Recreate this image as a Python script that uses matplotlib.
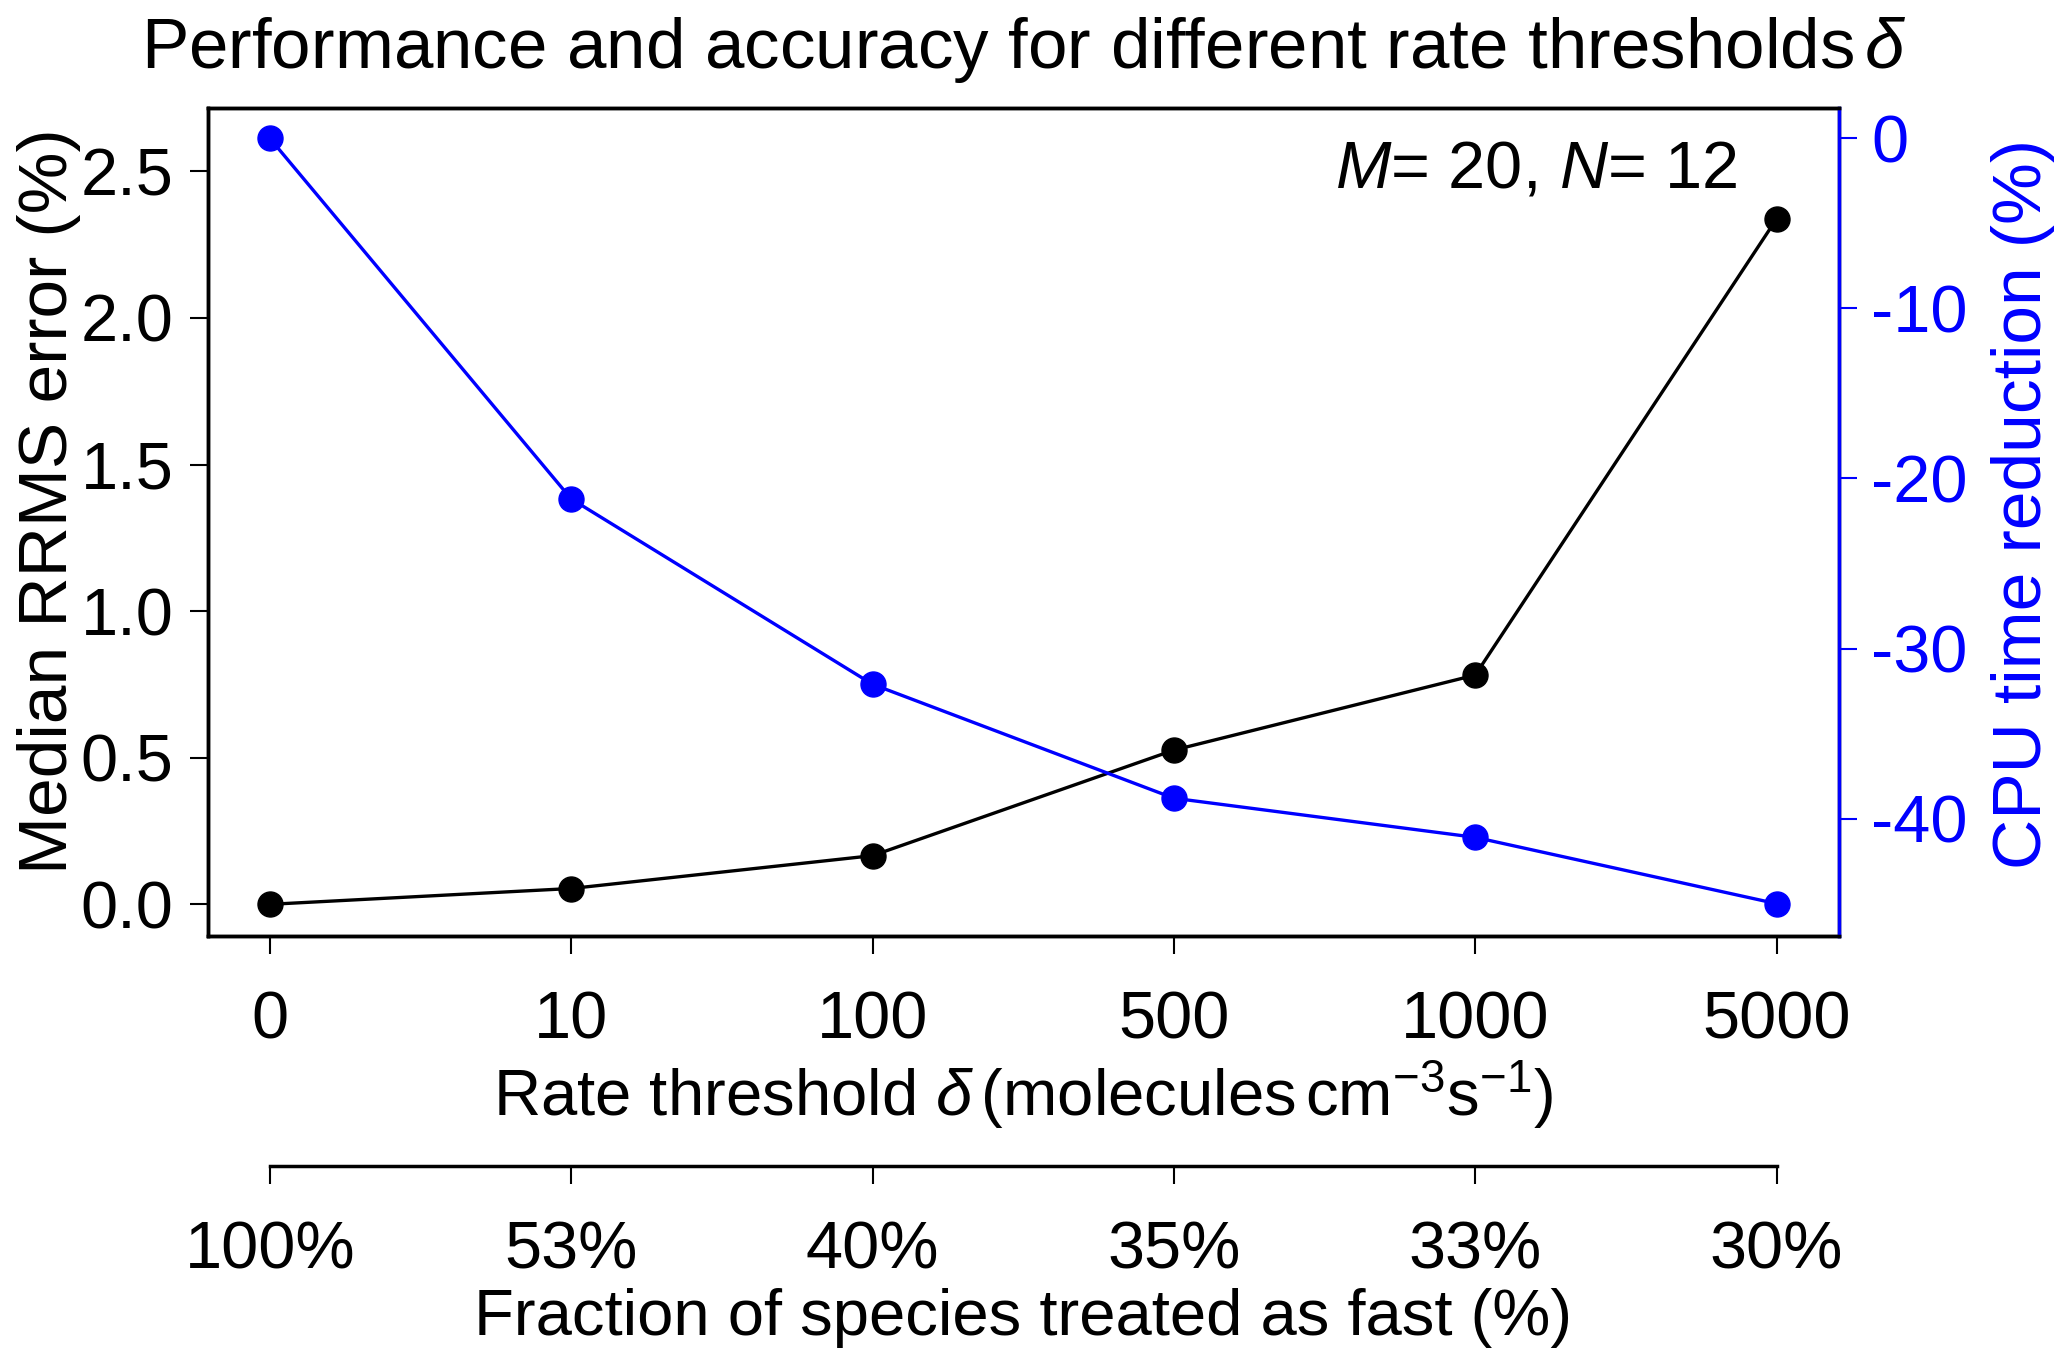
import matplotlib
matplotlib.use("Agg")
import matplotlib.pyplot as plt
import numpy as np

# donnees
seuils = ['0', '10', '100', '500', '1000', '5000']
fractions = ['100%', '53%', '40%', '35%', '33%', '30%']
rrms = [0.0, 0.054, 0.166, 0.526, 0.782, 2.338]
cpu = [0.0, -21.2, -32.1, -38.8, -41.1, -45.0]
yticks_g = [0.0, 0.5, 1.0, 1.5, 2.0, 2.5]
yticks_d = [0, -10, -20, -30, -40]

plt.rcParams['font.family'] = ['Liberation Sans', 'DejaVu Sans']
plt.rcParams['mathtext.fontset'] = 'custom'
plt.rcParams['mathtext.rm'] = 'Liberation Sans'
plt.rcParams['mathtext.it'] = 'Liberation Sans:italic'
plt.rcParams['axes.unicode_minus'] = False
fs = 48

fig = plt.figure(figsize=(20.67, 13.70), dpi=100)
L, R, T, B = 208/2067, 1839/2067, 1-108/1370, 1-936/1370
ax = fig.add_axes([L, B, R-L, T-B])
x = np.arange(len(seuils))

ax.plot(x, rrms, 'k-', lw=2.4, marker='o', ms=18, zorder=3)
ax.set_xlim(-0.205, 5.207)
ax.set_ylim(-0.108, 2.716)
ax.set_yticks(yticks_g)
ax.set_yticklabels(['%.1f' % v for v in yticks_g])
ax.set_xticks(x)
ax.set_xticklabels(seuils)
ax.tick_params(axis='both', labelsize=fs, length=13, width=1.5)
ax.tick_params(axis='x', pad=26)
ax.tick_params(axis='y', pad=12)
for s in ax.spines.values():
    s.set_linewidth(2.5)
ax.set_ylabel('Median RRMS error (%)', fontsize=50)
ax.yaxis.set_label_coords(-0.0975, 0.525)
ax.yaxis.label.set_va('center')
ax.set_xlabel(r'Rate threshold $\delta\,$(molecules$\,$cm$^{-3}$s$^{-1}$)', fontsize=47)
ax.xaxis.set_label_coords(0.5, -0.192)
ax.xaxis.label.set_va('center')
ax.text(0.9375, 0.924, r'$M$= 20, $N$= 12', transform=ax.transAxes,
        fontsize=48, ha='right', va='center')
fig.text((L+R)/2, 1-50/1370,
         r'Performance and accuracy for different rate thresholds$\,\delta$',
         fontsize=51, ha='center', va='center')

# axe de droite (temps CPU)
ax2 = ax.twinx()
ax2.plot(x, cpu, color='blue', lw=2.4, marker='o', ms=18, zorder=3)
ax2.set_ylim(-46.9, 1.78)
ax2.set_yticks(yticks_d)
ax2.tick_params(axis='y', colors='blue', labelsize=fs, length=13, width=1.5, pad=10)
for s in ax2.spines.values():
    s.set_linewidth(2.5)
ax2.spines['right'].set_color('blue')
ax2.set_ylabel('CPU time reduction (%)', fontsize=50, color='blue')
ax2.yaxis.set_label_coords(1.1128, 0.522)
ax2.yaxis.label.set_va('center')

# second axe x en dessous (fraction d'especes rapides)
y3 = 1 - 1166/1370
ax3 = fig.add_axes([L, y3, R-L, 0.001])
ax3.set_xlim(ax.get_xlim())
ax3.patch.set_visible(False)
for k in ['top', 'left', 'right']:
    ax3.spines[k].set_visible(False)
ax3.spines['bottom'].set_linewidth(2.5)
ax3.spines['bottom'].set_bounds(0, 5)
ax3.set_yticks([])
ax3.set_xticks(x)
ax3.set_xticklabels(fractions)
ax3.tick_params(axis='x', labelsize=fs, length=13, width=1.5, pad=26)
fig.text((L+R)/2, 1-1318/1370, 'Fraction of species treated as fast (%)',
         fontsize=47, ha='center', va='center')

fig.savefig('out.png', dpi=100)
